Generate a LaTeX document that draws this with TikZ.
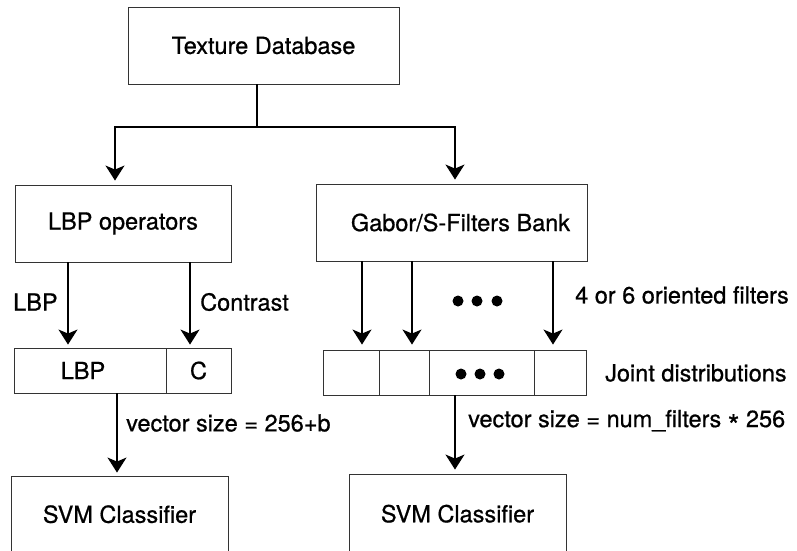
\documentclass[tikz,border=0pt]{standalone}
\usepackage{fontspec}
\setmainfont{TeX Gyre Heros}[FakeBold=0.7]
\usetikzlibrary{arrows.meta}
\tikzset{
  box/.style={draw=black!80, line width=0.9pt, rectangle, inner sep=0pt, font=\fontsize{23.5}{28}\selectfont},
  lab/.style={anchor=west, inner sep=0pt, font=\fontsize{23.5}{28}\selectfont},
  arr/.style={draw=black, line width=1.5pt, -{Stealth[length=15pt,width=19pt,inset=4pt]}},
  dotc/.style={fill=black, draw=none, circle, minimum size=11pt, inner sep=0pt}
}
\begin{document}
\begin{tikzpicture}[x=1pt,y=-1pt]
\useasboundingbox (0,0) rectangle (797,550);
\clip (0,0) rectangle (797,550);
% top
\node[box, minimum width=271pt, minimum height=77pt] (tex) at (263.5,45.5) {Texture Database};
\node[box, minimum width=216pt, minimum height=77pt] (lbpop) at (123,223.5) {LBP operators};
\node[box, minimum width=271pt, minimum height=77pt] (gab) at (451.5,222.5) {\hspace*{18pt}Gabor/S-Filters Bank};
\coordinate (split) at (257,127);
\draw[arr, shorten >=4pt] ([xshift=-6.5pt]tex.south) -- (split) -| ([xshift=-8pt]lbpop.north);
\draw[arr, shorten >=4pt] (split) -| ([xshift=3.5pt]gab.north);
% LBP / C vector
\node[box, minimum width=152pt, minimum height=45pt] (lbpc) at (90,370.5) {\hspace*{-14pt}LBP};
\node[box, minimum width=65pt, minimum height=45pt] (cc) at (198.5,370.5) {C};
\draw[arr, shorten >=3pt] ([xshift=-55pt]lbpop.south) -- ([xshift=-22pt]lbpc.north);
\draw[arr, shorten >=3pt] ([xshift=67pt]lbpop.south) -- ([xshift=-8.5pt]cc.north);
\node[lab] (llbp) at (13,302) {LBP};
\node[lab] (lcon) at (200,302) {Contrast};
% joint cells
\node[box, minimum width=56pt, minimum height=45pt] (j1) at (351,372.5) {};
\node[box, minimum width=50pt, minimum height=45pt] (j2) at (404,372.5) {};
\node[box, minimum width=105pt, minimum height=45pt] (j3) at (481.5,372.5) {};
\node[box, minimum width=52pt, minimum height=45pt] (j4) at (560,372.5) {};
\node[dotc] (d1) at (461,374) {};
\node[dotc] (d2) at (480,374) {};
\node[dotc] (d3) at (499,374) {};
\draw[arr, shorten >=5pt] ([xshift=-89.5pt]gab.south) -- ([xshift=11pt]j1.north);
\draw[arr, shorten >=5pt] ([xshift=-39.5pt]gab.south) -- ([xshift=8pt]j2.north);
\draw[arr, shorten >=5pt] ([xshift=101.5pt]gab.south) -- ([xshift=-7pt]j4.north);
\node[dotc] (u1) at (458,301) {};
\node[dotc] (u2) at (477,301) {};
\node[dotc] (u3) at (497,301) {};
\node[lab] (lfil) at (575,295) {4 or 6 oriented filters};
\node[lab] (ljoint) at (605,373) {Joint distributions};
% SVM boxes
\node[box, minimum width=217pt, minimum height=78pt] (svm1) at (119.5,515) {\raisebox{2pt}{SVM Classifier}};
\node[box, minimum width=217pt, minimum height=80pt] (svm2) at (457.5,514) {\raisebox{1pt}{SVM Classifier}};
\draw[arr, shorten >=3pt] ([xshift=27pt]lbpc.south) -- ([xshift=-2.5pt]svm1.north);
\draw[arr, shorten >=4pt] ([xshift=-26.5pt]j3.south) -- ([xshift=-2.5pt]svm2.north);
\node[lab] (lv1) at (126,423) {vector size = 256+b};
\node[lab] (lv2) at (468,423) {vector size = num\_filters {\fontsize{30}{30}\selectfont\raisebox{-0.3em}{*}} 256};
\end{tikzpicture}
\end{document}
